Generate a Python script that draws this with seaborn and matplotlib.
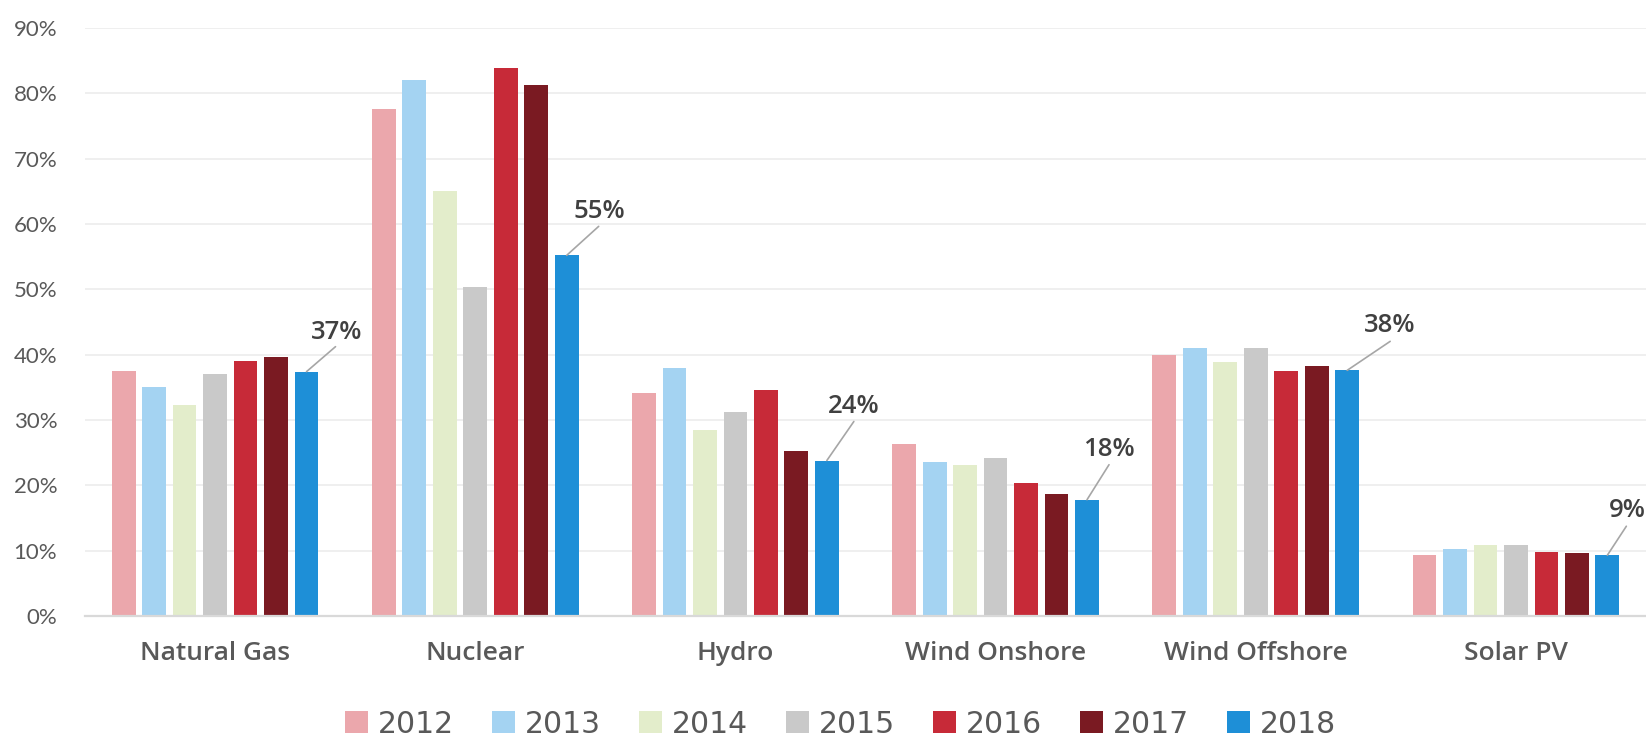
import matplotlib
matplotlib.use("Agg")
import matplotlib.pyplot as plt
from matplotlib.patches import Patch
from matplotlib.ticker import FuncFormatter
import seaborn as sns
import pandas as pd

# ---------------- data ----------------
categories = ["Natural Gas", "Nuclear", "Hydro", "Wind Onshore", "Wind Offshore", "Solar PV"]
years = ["2012", "2013", "2014", "2015", "2016", "2017", "2018"]
v2012 = [37.5, 77.6, 34.2, 26.3, 39.9, 9.4]
v2013 = [35.1, 82.1, 38.0, 23.6, 41.0, 10.3]
v2014 = [32.3, 65.0, 28.5, 23.1, 38.9, 10.8]
v2015 = [37.0, 50.3, 31.2, 24.2, 41.0, 10.9]
v2016 = [39.0, 83.9, 34.6, 20.4, 37.5, 9.8]
v2017 = [39.6, 81.3, 25.2, 18.6, 38.3, 9.6]
v2018 = [37.4, 55.2, 23.8, 17.8, 37.6, 9.3]
yticks = [0, 10, 20, 30, 40, 50, 60, 70, 80, 90]

# ---------------- style ----------------
colors = ["#EBA7AC", "#A4D3F2", "#E3EDCB", "#C9C9C9", "#C72A38", "#7A1A22", "#1E8FD7"]
# label placement (pixels): (text dx, text baseline dy, line end dx, line end dy)
label_layout = [
    (30, 33, 29, 25),
    (33, 37, 32, 29),
    (27, 48, 27, 39),
    (22, 44, 22, 35),
    (43, 38, 43, 29),
    (20, 38, 19, 29),
]

series = [v2012, v2013, v2014, v2015, v2016, v2017, v2018]
rows = []
for y, vals in zip(years, series):
    for c, v in zip(categories, vals):
        rows.append({"source": c, "year": y, "value": v})
df = pd.DataFrame(rows)

sns.set_theme(style="white")
plt.rcParams["font.family"] = ["Open Sans", "DejaVu Sans"]

fig = plt.figure(figsize=(16.46, 7.37), dpi=100)
ax = fig.add_axes([85 / 1646, 121 / 737, 1561 / 1646, 588 / 737])

sns.barplot(data=df, x="source", y="value", hue="year", order=categories,
            hue_order=years, palette=colors, width=0.82, gap=0.22,
            linewidth=0, saturation=1, legend=False, ax=ax)

ax.set_xlim(-0.5, 5.5)
ax.set_ylim(0, 90)
ax.set_yticks(yticks)
ax.yaxis.set_major_formatter(FuncFormatter(lambda v, p: f"{v:.0f}%"))
ax.grid(axis="y", color="#EBEBEB", linewidth=1.1, zorder=0)
ax.set_axisbelow(True)
for s in ["top", "right", "left"]:
    ax.spines[s].set_visible(False)
ax.spines["bottom"].set_color("#D9D9D9")
ax.spines["bottom"].set_linewidth(1.6)
ax.set_xlabel("")
ax.set_ylabel("")
ax.tick_params(axis="y", length=0, pad=20, labelsize=16, labelcolor="#595959")
ax.tick_params(axis="x", length=0, pad=18, labelsize=19, labelcolor="#595959")
for t in ax.get_yticklabels():
    t.set_fontfamily(["Lato", "DejaVu Sans"])
for t in ax.get_xticklabels():
    t.set_fontweight("semibold")

# labels on 2018 bars
last = ax.containers[-1]
for bar, (tdx, tdy, ldx, ldy) in zip(last, label_layout):
    x = bar.get_x() + bar.get_width() / 2
    h = bar.get_height()
    ax.annotate("", xy=(x, h), xytext=(ldx, ldy), textcoords="offset pixels",
                arrowprops=dict(arrowstyle="-", color="#A6A6A6", lw=1.2,
                                shrinkA=0, shrinkB=0))
    ax.annotate(f"{h:.0f}%", xy=(x, h), xytext=(tdx, tdy), textcoords="offset pixels",
                ha="center", va="baseline", fontsize=18.5, fontweight="semibold",
                color="#404040")

handles = [Patch(facecolor=c, edgecolor="none") for c in colors]
fig.legend(handles, years, loc="center", bbox_to_anchor=(0.5106, 0.0176), ncol=7,
           frameon=False, prop={"family": "DejaVu Sans", "size": 21.5},
           labelcolor="#595959", handlelength=0.77, handleheight=0.77,
           handletextpad=0.33, columnspacing=1.27, borderpad=0, borderaxespad=0)

fig.savefig("out.png", dpi=100)
